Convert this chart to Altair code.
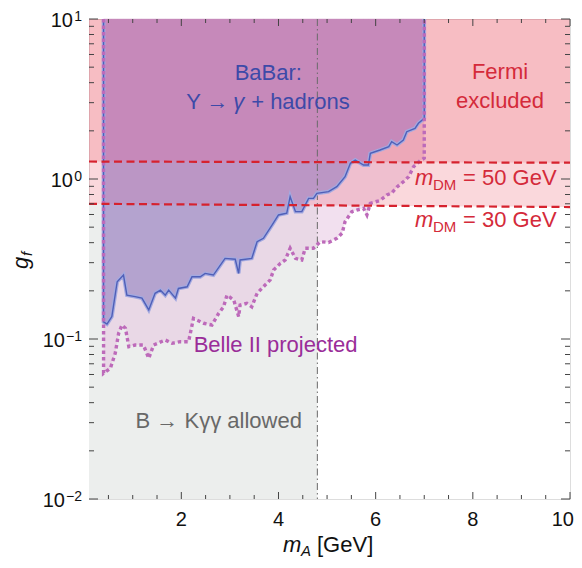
import altair as alt
import pandas as pd

# ---------------- data ----------------
babar_x = [0.40, 0.47, 0.57, 0.68, 0.81, 0.88, 1.05, 1.19, 1.33, 1.46, 1.57, 1.67, 1.74, 1.88, 1.94,
           2.12, 2.22, 2.39, 2.49, 2.66, 2.90, 3.11, 3.18, 3.21, 3.45, 3.56, 3.69, 3.87, 4.00, 4.17,
           4.24, 4.35, 4.48, 4.62, 4.72, 4.79, 5.03, 5.20, 5.37, 5.48, 5.58, 5.75, 5.85, 5.89, 6.09,
           6.27, 6.33, 6.44, 6.57, 6.64, 6.81, 6.88, 7.00]
babar_g = [0.128, 0.124, 0.138, 0.228, 0.251, 0.188, 0.184, 0.180, 0.152, 0.193, 0.202, 0.188, 0.202, 0.180, 0.207,
           0.212, 0.245, 0.245, 0.257, 0.251, 0.319, 0.315, 0.257, 0.312, 0.319, 0.406, 0.426, 0.516, 0.596, 0.611,
           0.775, 0.625, 0.625, 0.757, 0.757, 0.814, 0.833, 0.895, 1.033, 1.253, 1.314, 1.223, 1.223, 1.447, 1.518,
           1.592, 1.711, 1.631, 1.753, 1.976, 2.074, 2.229, 2.395]

belle_x = [0.40, 0.54, 0.64, 0.71, 0.78, 0.85, 0.92, 1.05, 1.22, 1.33, 1.43, 1.67, 1.81, 1.98, 2.15,
           2.25, 2.46, 2.63, 2.77, 2.87, 2.94, 3.08, 3.18, 3.21, 3.35, 3.45, 3.56, 3.69, 3.83, 3.90,
           4.04, 4.14, 4.24, 4.35, 4.48, 4.55, 4.72, 4.86, 5.03, 5.20, 5.31, 5.37, 5.51, 5.61, 5.75,
           5.82, 5.89, 6.09, 6.23, 6.33, 6.44, 6.57, 6.68, 6.78, 6.92, 7.00]
belle_g = [0.061, 0.0656, 0.0814, 0.1086, 0.1223, 0.1167, 0.0895, 0.0917, 0.0917, 0.0758, 0.0917, 0.0986, 0.094, 0.0962, 0.0962,
           0.1346, 0.1254, 0.1223, 0.1448, 0.159, 0.188, 0.175, 0.138, 0.163, 0.167, 0.159, 0.193, 0.212, 0.234, 0.270,
           0.297, 0.312, 0.369, 0.319, 0.312, 0.369, 0.369, 0.406, 0.401, 0.426, 0.458, 0.541, 0.625, 0.640, 0.656,
           0.596, 0.705, 0.734, 0.794, 0.818, 0.891, 0.962, 1.033, 1.194, 1.305, 1.35]

# Fermi bounds (straight lines across the plot)
fermi_x = [0.1, 10.0]
fermi_30 = [0.700, 0.668]
fermi_50 = [1.286, 1.264]

bkgg_x = [0.1, 4.8]          # B -> K gamma gamma allowed region (below Fermi bound)
x_range = [0.1, 10.0]
g_range = [0.01, 10.0]

x_major = [2, 4, 6, 8, 10]
x_minor = [0.5, 1.0, 1.5, 2.5, 3.0, 3.5, 4.5, 5.0, 5.5, 6.5, 7.0, 7.5, 8.5, 9.0, 9.5]
y_major = [0.01, 0.1, 1.0, 10.0]
y_exp = ["\u22122", "\u22121", "0", "1"]
y_minor = [k * 10.0 ** e for e in (-2, -1, 0) for k in range(2, 10)]

# ---------------- layout ----------------
W, H = 481, 480
FONT = "Liberation Sans"
xs = alt.Scale(domain=x_range, nice=False, zero=False)
ys = alt.Scale(type="log", domain=g_range, nice=False)


def X(f="x"):
    return alt.X(f"{f}:Q", scale=xs, axis=None)


def Y(f="g"):
    return alt.Y(f"{f}:Q", scale=ys, axis=None)


top = g_range[1]
bot = g_range[0]


def line_expr(vals):
    x0, x1 = fermi_x
    a, b = vals
    return f"{a}*pow({b}/{a}, (datum.x-{x0})/({x1}-{x0}))"


E30 = line_expr(fermi_30)
E50 = line_expr(fermi_50)

babar_df = pd.DataFrame({"x": babar_x, "g": babar_g, "top": top})
belle_df = pd.DataFrame({"x": belle_x, "g": belle_g, "top": top})

babar_path = pd.DataFrame({
    "x": [babar_x[0]] + babar_x + [babar_x[-1]],
    "g": [top] + babar_g + [top],
})
babar_path["i"] = range(len(babar_path))
belle_path = pd.DataFrame({
    "x": [belle_x[0]] + belle_x + [belle_x[-1]],
    "g": [top] + belle_g + [top],
})
belle_path["i"] = range(len(belle_path))

fermi_df = pd.DataFrame({"x": fermi_x, "f30": fermi_30, "f50": fermi_50, "top": top})
gray_df = pd.DataFrame({"x": bkgg_x, "bot": bot})

# gray allowed region (below the Fermi bound)
gray = alt.Chart(gray_df).transform_calculate(f30=E30).mark_area(color="#eceeed").encode(
    x=X(), y=Y("bot"), y2="f30:Q")

belle_area = alt.Chart(belle_df).mark_area(color="#e5c1df", opacity=0.5).encode(
    x=X(), y=Y(), y2="top:Q")

fermi30_area = alt.Chart(fermi_df).mark_area(color="#e63c50", opacity=0.2).encode(
    x=X(), y=Y("f30"), y2="top:Q")
fermi50_area = alt.Chart(fermi_df).mark_area(color="#e63c50", opacity=0.175).encode(
    x=X(), y=Y("f50"), y2="top:Q")

babar_base = alt.Chart(babar_df).transform_calculate(f30=E30, f50=E50).transform_calculate(
    lo30="max(datum.g, datum.f30)", lo50="max(datum.g, datum.f50)")
babar_a = babar_base.mark_area(color="#b4a3cf", stroke="#b4a3cf", strokeWidth=0.4).encode(
    x=X(), y=Y(), y2="lo30:Q")
babar_b = babar_base.mark_area(color="#bb96c5", stroke="#bb96c5", strokeWidth=0.4).encode(
    x=X(), y=Y("lo30"), y2="lo50:Q")
babar_c = babar_base.mark_area(color="#c689ba", stroke="#c689ba", strokeWidth=0.4).encode(
    x=X(), y=Y("lo50"), y2="top:Q")

vline_df = pd.DataFrame({"x": [bkgg_x[1]]})
vline = alt.Chart(vline_df).mark_rule(color="#6a6a6a", strokeWidth=1, strokeDash=[7, 3, 1.5, 3]).encode(
    x=X(), y=alt.value(0), y2=alt.value(H))

babar_halo = alt.Chart(babar_path).mark_line(color="#a3a9e0", strokeWidth=3.8).encode(
    x=X(), y=Y(), order="i:Q")
babar_line = alt.Chart(babar_path).mark_line(color="#4f5fb8", strokeWidth=1.4).encode(
    x=X(), y=Y(), order="i:Q")
belle_line = alt.Chart(belle_path).mark_line(color="#bd6aba", strokeWidth=3.4, strokeDash=[3.5, 3]).encode(
    x=X(), y=Y(), order="i:Q")

f30_line = alt.Chart(fermi_df).mark_line(color="#d6222e", strokeWidth=2.2, strokeDash=[8, 4.5]).encode(
    x=X(), y=Y("f30"))
f50_line = alt.Chart(fermi_df).mark_line(color="#d6222e", strokeWidth=2.2, strokeDash=[8, 4.5]).encode(
    x=X(), y=Y("f50"))

# ticks (inward, all four sides)
TC = "#444444"
xmaj_df = pd.DataFrame({"x": x_major, "t": [str(v) for v in x_major]})
xmin_df = pd.DataFrame({"x": x_minor})
ymaj_df = pd.DataFrame({"g": y_major, "e": y_exp})
ymin_df = pd.DataFrame({"g": y_minor})
ticks = [
    alt.Chart(xmaj_df).mark_rule(color=TC).encode(x=X(), y=alt.value(H), y2=alt.value(H - 7)),
    alt.Chart(xmaj_df).mark_rule(color=TC).encode(x=X(), y=alt.value(0), y2=alt.value(7)),
    alt.Chart(xmin_df).mark_rule(color=TC).encode(x=X(), y=alt.value(H), y2=alt.value(H - 4)),
    alt.Chart(xmin_df).mark_rule(color=TC).encode(x=X(), y=alt.value(0), y2=alt.value(4)),
    alt.Chart(ymaj_df).mark_rule(color=TC).encode(y=Y(), x=alt.value(0), x2=alt.value(9)),
    alt.Chart(ymaj_df).mark_rule(color=TC).encode(y=Y(), x=alt.value(W), x2=alt.value(W - 9)),
    alt.Chart(ymin_df).mark_rule(color=TC).encode(y=Y(), x=alt.value(0), x2=alt.value(5)),
    alt.Chart(ymin_df).mark_rule(color=TC).encode(y=Y(), x=alt.value(W), x2=alt.value(W - 5)),
]

# x tick labels (last one kept inside the page)
xlab = alt.Chart(xmaj_df).transform_filter(f"datum.x < {x_range[1]}").mark_text(
    font=FONT, fontSize=20, align="center", baseline="top", color="#111").encode(
    x=X(), y=alt.value(H + 11), text="t:N")
xlab_last = alt.Chart(xmaj_df).transform_filter(f"datum.x >= {x_range[1]}").mark_text(
    font=FONT, fontSize=20, align="right", baseline="top", color="#111").encode(
    x=alt.value(W + 4), y=alt.value(H + 11), text="t:N")

# y tick labels 10^k
ylab_exp = alt.Chart(ymaj_df).mark_text(font=FONT, fontSize=14, align="right", baseline="alphabetic",
                                        color="#111", dy=2).encode(
    y=Y(), x=alt.value(-7), text="e:N")
ylab_ten = alt.Chart(ymaj_df).transform_calculate(
    px="-8 - (length(datum.e) > 1 ? 16 : 8)", t="'10'"
).mark_text(font=FONT, fontSize=20, align="right", baseline="middle", color="#111", dy=2).encode(
    y=Y(), x=alt.X("px:Q", scale=None), text="t:N")


def txt(text, x, y, size, color, align="center", dx=0, dy=0, style="normal", baseline="middle"):
    df = pd.DataFrame({"x": [x], "g": [y], "t": [text]})
    return alt.Chart(df).mark_text(font=FONT, fontSize=size, color=color, align=align, dx=dx, dy=dy,
                                   fontStyle=style, baseline=baseline).encode(x=X(), y=Y(), text="t:N")


def ptxt(text, px, py, size, color, align="left", angle=0, style="normal", baseline="alphabetic"):
    df = pd.DataFrame({"t": [text]})
    return alt.Chart(df).mark_text(font=FONT, fontSize=size, color=color, align=align, angle=angle,
                                   fontStyle=style, baseline=baseline).encode(
        x=alt.value(px), y=alt.value(py), text="t:N")


BLUE = "#3d4aa8"
RED = "#d42a3a"
PURP = "#9a2d99"
GREY = "#686868"
FS = 22

texts = [
    txt("BaBar:", 3.79, 4.6, FS, BLUE),
    txt("\u03a5 \u2192", 2.10, 3.03, FS, BLUE, align="left"),
    txt("\u03b3", 2.10, 3.03, FS, BLUE, align="left", dx=47, style="italic"),
    txt("+ hadrons", 2.10, 3.03, FS, BLUE, align="left", dx=65),
    txt("Fermi", 8.56, 4.67, FS, RED),
    txt("excluded", 8.56, 3.07, FS, RED),
    txt("m", 6.81, 0.917, FS, RED, align="left", style="italic", baseline="alphabetic"),
    txt("DM", 6.81, 0.917, 15, RED, align="left", dx=18, dy=5, baseline="alphabetic"),
    txt("= 50 GeV", 6.81, 0.917, FS, RED, align="left", dx=48, baseline="alphabetic"),
    txt("m", 6.81, 0.503, FS, RED, align="left", style="italic", baseline="alphabetic"),
    txt("DM", 6.81, 0.503, 15, RED, align="left", dx=18, dy=5, baseline="alphabetic"),
    txt("= 30 GeV", 6.81, 0.503, FS, RED, align="left", dx=48, baseline="alphabetic"),
    txt("Belle II projected", 3.94, 0.0917, FS, PURP),
    txt("B \u2192 K\u03b3\u03b3 allowed", 2.77, 0.0307, FS, GREY),
    # axis titles
    ptxt("m", 194, 533, FS, "#111", style="italic"),
    ptxt("A", 212, 537, 15, "#111", style="italic"),
    ptxt("[GeV]", 228, 533, FS, "#111"),
    ptxt("g", -61, 250, FS, "#111", angle=270, style="italic"),
    ptxt("f", -57, 237, 15, "#111", angle=270, style="italic"),
]

chart = alt.layer(
    gray, belle_area, fermi30_area, fermi50_area, babar_a, babar_b, babar_c, vline,
    babar_halo, babar_line, belle_line, f30_line, f50_line,
    *ticks, xlab, xlab_last, ylab_exp, ylab_ten, *texts
).properties(
    width=W, height=H,
    autosize=alt.AutoSizeParams(type="none"),
    padding={"left": 81, "top": 11, "right": 4, "bottom": 61},
).configure_view(stroke="#555555", strokeWidth=1.2).configure(background="white")

chart.save("out.html", embed_options={"renderer": "svg", "actions": False})
